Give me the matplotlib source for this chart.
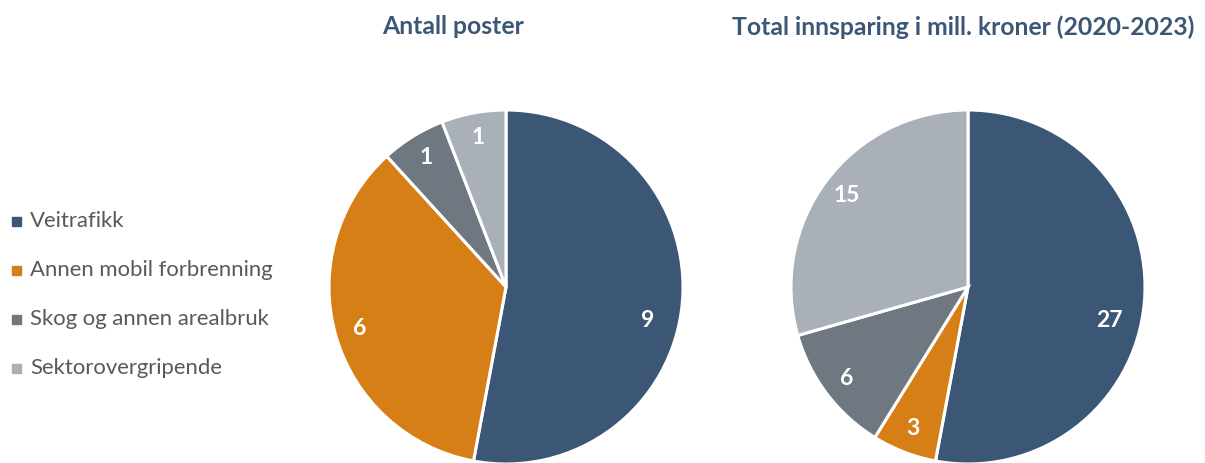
import matplotlib.pyplot as plt
import numpy as np

plt.rcParams['font.family'] = ['Lato', 'DejaVu Sans']

categories = ['Veitrafikk', 'Annen mobil forbrenning', 'Skog og annen arealbruk', 'Sektorovergripende']
colors = ['#3B5775', '#D67F17', '#6F7780', '#A9B0B7']
antall = [9, 6, 1, 1]
innsparing = [27, 3, 6, 15]
titles = ['Antall poster', 'Total innsparing i mill. kroner (2020-2023)']

W, H = 1205, 463
fig = plt.figure(figsize=(W / 100, H / 100), dpi=100)

def pie_axes(cx, cy, r):
    # axes in pixel units, y from the top
    return fig.add_axes([(cx - r) / W, (H - cy - r) / H, 2 * r / W, 2 * r / H])

def draw_pie(ax, values):
    wedges, texts = ax.pie(values, colors=colors, startangle=90, counterclock=False,
                           radius=1, wedgeprops=dict(edgecolor='white', linewidth=2.2))
    total = sum(values)
    start = 90.0
    for i, v in enumerate(values):
        ang = start - v / total * 180
        start -= v / total * 360
        dist = 0.86
        if v / total > 0.5:
            # the big slice gets its label pulled down a bit
            ang -= 8
            dist = 0.82
        x = dist * np.cos(np.radians(ang))
        y = dist * np.sin(np.radians(ang))
        ax.text(x, y, str(v), ha='center', va='center', color='white',
                fontsize=16.5, fontweight='bold')
    ax.set_xlim(-1, 1)
    ax.set_ylim(-1, 1)
    ax.set_aspect('equal')
    ax.axis('off')

ax1 = pie_axes(506, 287, 177)
draw_pie(ax1, antall)
ax2 = pie_axes(968, 287, 177)
draw_pie(ax2, innsparing)

fig.text(453 / W, 1 - 27 / H, titles[0], ha='center', va='center',
         color='#3B5775', fontsize=17.8, fontweight='bold')
fig.text(963 / W, 1 - 27 / H, titles[1], ha='center', va='center',
         color='#3B5775', fontsize=17.8, fontweight='bold')

# legend on the left
for i, (name, c) in enumerate(zip(categories, colors)):
    y = 1 - (221 + 49 * i) / H
    fig.patches.append(plt.Rectangle((12 / W, y - 4.5 / H), 9 / W, 9 / H,
                                     transform=fig.transFigure, color=c))
    fig.text(30 / W, y, name, ha='left', va='center', color='#595959', fontsize=15.9)

fig.savefig('out.png', dpi=100)
